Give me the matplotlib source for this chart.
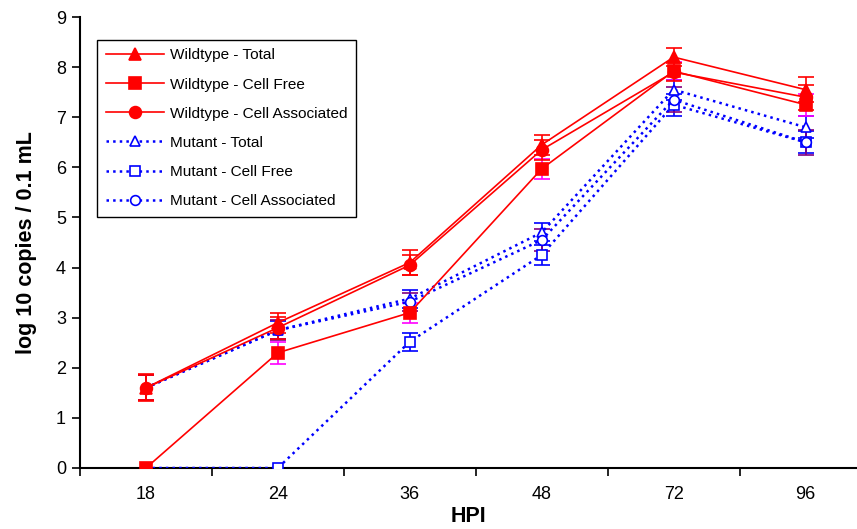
import numpy as np
import matplotlib
matplotlib.use("Agg")
import matplotlib.pyplot as plt

plt.rcParams['font.family'] = ['Liberation Sans', 'DejaVu Sans']

# Data
hpi = ["18", "24", "36", "48", "72", "96"]

wt_total = [1.60, 2.90, 4.10, 6.45, 8.20, 7.55]
wt_free = [0.00, 2.30, 3.10, 5.97, 7.92, 7.25]
wt_assoc = [1.60, 2.80, 4.05, 6.35, 7.90, 7.40]
mut_total = [1.60, 2.75, 3.38, 4.70, 7.55, 6.80]
mut_free = [0.00, 0.00, 2.52, 4.25, 7.25, 6.50]
mut_assoc = [1.60, 2.75, 3.32, 4.55, 7.35, 6.50]

wt_total_err = [0.27, 0.20, 0.25, 0.20, 0.18, 0.25]
wt_free_err = [0.00, 0.22, 0.20, 0.20, 0.18, 0.22]
wt_assoc_err = [0.25, 0.22, 0.20, 0.20, 0.18, 0.25]
mut_total_err = [0.25, 0.18, 0.18, 0.18, 0.20, 0.22]
mut_free_err = [0.00, 0.00, 0.18, 0.20, 0.22, 0.22]
mut_assoc_err = [0.25, 0.20, 0.18, 0.22, 0.25, 0.25]

x = np.arange(len(hpi))

fig = plt.figure(figsize=(8.57, 5.29), dpi=100)
ax = fig.add_axes([80 / 857, 61 / 529, 777 / 857, 451 / 529])

series = [
    (mut_total, mut_total_err, "Mutant - Total", "blue", "blue", ":", "^", "white", "blue"),
    (mut_free, mut_free_err, "Mutant - Cell Free", "blue", "blue", ":", "s", "white", "blue"),
    (mut_assoc, mut_assoc_err, "Mutant - Cell Associated", "blue", "purple", ":", "o", "white", "blue"),
    (wt_total, wt_total_err, "Wildtype - Total", "red", "red", "-", "^", "red", "red"),
    (wt_free, wt_free_err, "Wildtype - Cell Free", "red", "magenta", "-", "s", "red", "red"),
    (wt_assoc, wt_assoc_err, "Wildtype - Cell Associated", "red", "red", "-", "o", "red", "red"),
]

handles = {}
for vals, err, label, col, ecol, ls, mk, mfc, mec in series:
    ax.errorbar(x, vals, yerr=err, fmt="none", ecolor=ecol, elinewidth=1.2,
                capsize=5.5, capthick=1.2, zorder=2)
    lw = 1.2 if ls == "-" else 1.8
    ms = 8.5 if mfc != "white" else 7
    line, = ax.plot(x, vals, color=col, linestyle=ls, linewidth=lw, marker=mk,
                    markersize=ms, markerfacecolor=mfc, markeredgecolor=mec,
                    markeredgewidth=1.2, label=label, zorder=3)
    handles[label] = line

order = ["Wildtype - Total", "Wildtype - Cell Free", "Wildtype - Cell Associated",
         "Mutant - Total", "Mutant - Cell Free", "Mutant - Cell Associated"]

ax.set_xlim(-0.49, 5.39)
ax.set_ylim(0, 9)
ax.set_yticks(range(0, 10))
ax.set_xticks(x)
ax.set_xticklabels(hpi)
ax.set_xticks(np.arange(-0.5, 5.0, 1.0), minor=True)
ax.tick_params(axis="x", which="major", length=0, labelsize=13, pad=13)
ax.tick_params(axis="x", which="minor", length=6, width=1.2)
ax.tick_params(axis="y", length=6, width=1.2, labelsize=13, pad=4)

ax.spines["top"].set_visible(False)
ax.spines["right"].set_visible(False)
ax.spines["left"].set_linewidth(1.5)
ax.spines["bottom"].set_linewidth(1.5)

ax.set_ylabel("log 10 copies / 0.1 mL", fontsize=15.5, fontweight="bold", labelpad=14)
ax.set_xlabel("HPI", fontsize=15.5, fontweight="bold", labelpad=2)

leg = ax.legend([handles[k] for k in order], order, loc="upper left",
                bbox_to_anchor=(0.022, 0.949), borderaxespad=0,
                fontsize=11.1, handlelength=3.8, handletextpad=0.4,
                labelspacing=0.98, fancybox=False, framealpha=1,
                edgecolor="black", borderpad=0.55)
leg.get_frame().set_linewidth(1.0)

fig.savefig("out.png", dpi=100)
